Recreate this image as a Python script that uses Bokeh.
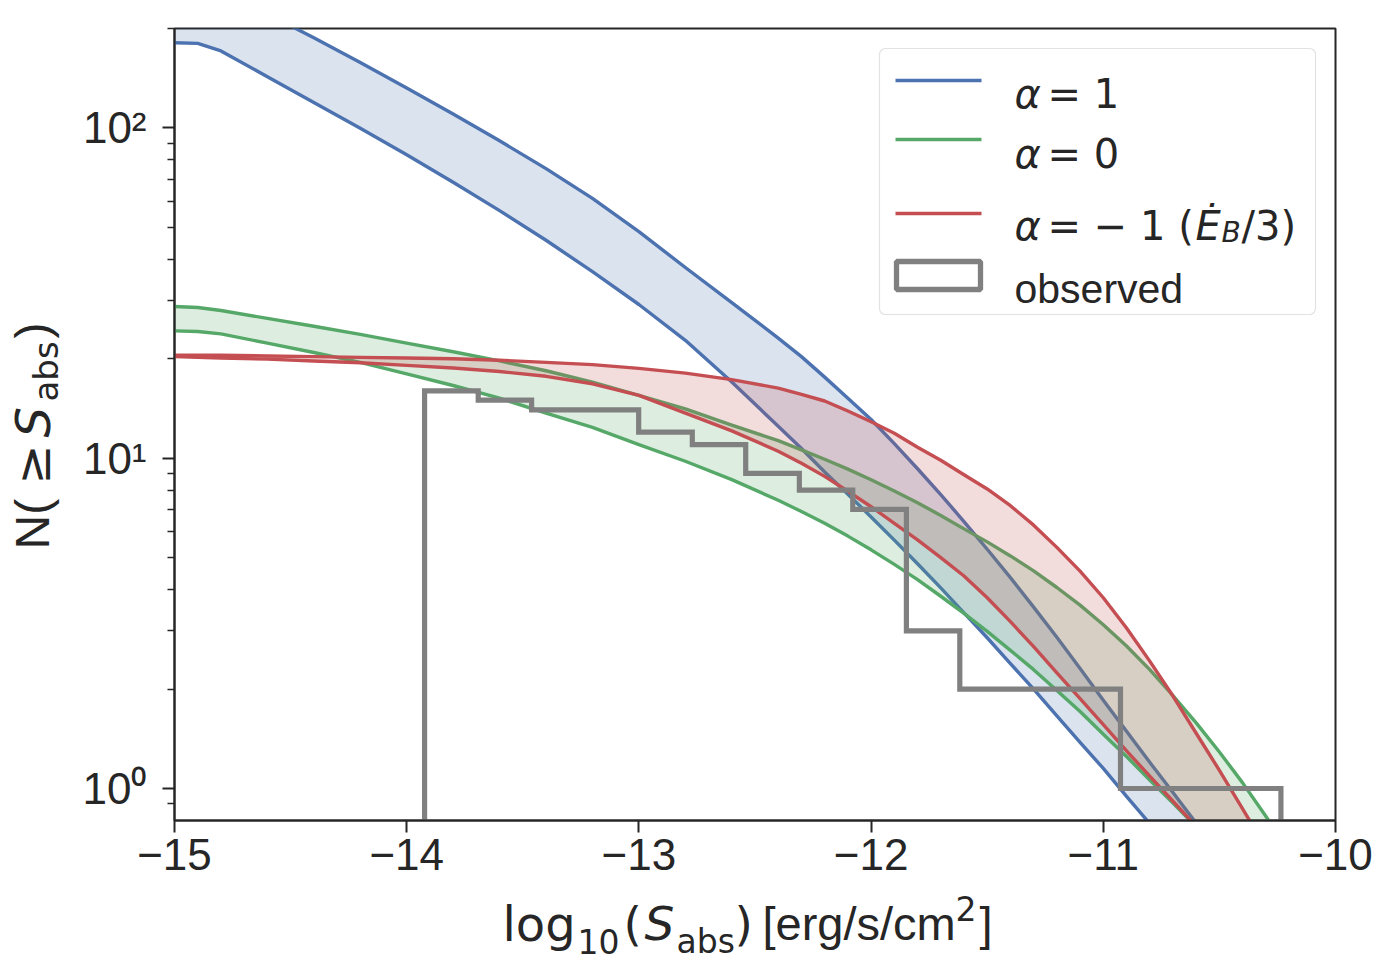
from bokeh.plotting import figure
from bokeh.models import FixedTicker, Label, BoxAnnotation, Range1d, Title
from bokeh.embed import file_html
from bokeh.resources import INLINE

# ---------------- data ----------------
log_s = [-15.0, -14.9, -14.8, -14.6, -14.4, -14.2, -14.0, -13.8, -13.6, -13.4, -13.2, -13.0,
         -12.8, -12.6,
         -12.4, -12.3, -12.2, -12.1, -12.0, -11.9, -11.8, -11.7, -11.6, -11.5, -11.4, -11.3,
         -11.2, -11.1, -11.0, -10.9, -10.8, -10.7, -10.6, -10.5, -10.4, -10.3, -10.2, -10.1,
         -10.0]

blue_upper = [281.8, 269, 257.0, 221.3, 187.5, 157.8, 132.1, 110.2, 91.4, 75.3, 61.2, 48.5,
              37.8, 29.6,
              23.1, 20.3, 17.6, 15.2, 13.1, 11.07, 9.29, 7.76, 6.43, 5.30, 4.35, 3.54,
              2.87, 2.31, 1.85, 1.49, 1.20, 0.972, 0.785, 0.627, 0.50, 0.398, 0.316, 0.251,
              0.20]
blue_lower = [181.1, 180.3, 171.0, 142.9, 119.4, 99.8, 83.0, 68.5, 56.2, 45.7, 36.7, 29.2,
              22.75, 17.0,
              12.5, 10.7, 9.08, 7.78, 6.64, 5.65, 4.79, 4.05, 3.40, 2.86, 2.39, 2.00,
              1.66, 1.38, 1.15, 0.947, 0.783, 0.646, 0.533, 0.44, 0.362, 0.298, 0.245, 0.201,
              0.166]

green_upper = [28.8, 28.6, 28.0, 26.5, 25.1, 23.7, 22.3, 21.0, 19.7, 18.4, 17.0, 15.5,
               14.1, 12.6,
               11.3, 10.6, 9.93, 9.27, 8.61, 7.96, 7.33, 6.71, 6.11, 5.58, 5.06, 4.56,
               4.06, 3.59, 3.13, 2.70, 2.29, 1.91, 1.58, 1.29, 1.04, 0.824, 0.646, 0.50,
               0.381]
green_lower = [24.3, 24.2, 23.8, 22.3, 20.9, 19.5, 18.0, 16.6, 15.2, 13.7, 12.4, 11.0,
               9.79, 8.61,
               7.46, 6.90, 6.35, 5.81, 5.28, 4.77, 4.29, 3.82, 3.39, 2.99, 2.62, 2.29,
               1.98, 1.71, 1.46, 1.25, 1.06, 0.903, 0.766, 0.646, 0.546, 0.459, 0.386, 0.324,
               0.272]

red_upper = [20.5, 20.5, 20.5, 20.4, 20.3, 20.2, 20.1, 20.0, 19.8, 19.5, 19.2, 18.7,
             18.1, 17.3,
             16.3, 15.6, 14.9, 13.9, 12.9, 11.9, 10.8, 9.86, 8.91, 8.07, 7.18, 6.27,
             5.37, 4.55, 3.78, 3.06, 2.43, 1.905, 1.47, 1.135, 0.867, 0.664, 0.506, 0.386,
             0.294]
red_lower = [20.3, 20.2, 20.1, 19.95, 19.7, 19.45, 19.1, 18.75, 18.3, 17.7, 16.8, 15.5,
             13.7, 12.1,
             10.5, 9.66, 8.81, 7.94, 7.13, 6.35, 5.66, 5.0, 4.40, 3.78, 3.20, 2.69,
             2.24, 1.87, 1.56, 1.30, 1.09, 0.915, 0.767, 0.642, 0.537, 0.449, 0.376, 0.315,
             0.263]

hist_edges = [-13.923, -13.692, -13.462, -13.231, -13.001, -12.770, -12.540, -12.309,
              -12.079, -11.848, -11.618, -11.387, -11.157, -10.926, -10.696, -10.465, -10.235]
hist_counts = [16, 15, 14, 14, 12, 11, 9, 8, 7, 3, 2, 2, 2, 1, 1, 1]
hist_bottom = 0.1

x_ticks = [-15, -14, -13, -12, -11, -10]
x_tick_labels = ["\u221215", "\u221214", "\u221213", "\u221212", "\u221211", "\u221210"]
y_ticks = [1, 10, 100]
y_tick_labels = ["10\u2070", "10\u00b9", "10\u00b2"]
y_minor = [0.9, 2, 3, 4, 5, 6, 7, 8, 9, 20, 30, 40, 50, 60, 70, 80, 90, 200]

# ---------------- style ----------------
BLUE, GREEN, RED, GRAY, INK = "#4C72B0", "#55A868", "#C44E52", "#808080", "#262626"
W, H = 1390, 971
FL, FR, FT, FB = 174, 1335, 28, 820   # frame edges on the canvas

p = figure(width=W, height=H, x_range=Range1d(-15, -10), y_range=Range1d(0.8, 200),
           y_axis_type="log", output_backend="svg", toolbar_location=None,
           min_border_left=FL, min_border_right=W - FR,
           min_border_top=FT, min_border_bottom=H - FB)
p.background_fill_color = "white"
p.border_fill_color = "white"
p.xgrid.visible = False
p.ygrid.visible = False
p.outline_line_color = INK
p.outline_line_width = 2

for ax in (p.xaxis[0], p.yaxis[0]):
    ax.axis_line_color = INK
    ax.axis_line_width = 2
    ax.major_tick_line_color = INK
    ax.major_tick_line_width = 2
    ax.minor_tick_line_color = INK
    ax.minor_tick_line_width = 1.5
    ax.major_tick_in = 0
    ax.major_tick_out = 12
    ax.minor_tick_in = 0
    ax.minor_tick_out = 7
    ax.major_label_text_font = "Liberation Sans"
    ax.major_label_text_font_size = "44px"
    ax.major_label_text_color = INK

p.xaxis.ticker = FixedTicker(ticks=x_ticks, minor_ticks=[])
p.xaxis.major_label_overrides = dict(zip(x_ticks, x_tick_labels))
p.xaxis.major_label_standoff = 6
p.yaxis.ticker = FixedTicker(ticks=y_ticks, minor_ticks=y_minor)
p.yaxis.major_label_overrides = dict(zip(y_ticks, y_tick_labels))
p.yaxis.major_label_standoff = 16

# ---------------- bands and curves ----------------
for lo, hi, col in ((blue_lower, blue_upper, BLUE),
                    (green_lower, green_upper, GREEN),
                    (red_lower, red_upper, RED)):
    p.varea(x=log_s, y1=lo, y2=hi, fill_color=col, fill_alpha=0.2)
    p.line(log_s, hi, line_color=col, line_width=3.4, line_join="round")
    p.line(log_s, lo, line_color=col, line_width=3.4, line_join="round")

# cumulative step histogram of observed sources
hx = [hist_edges[0]]
hy = [hist_bottom]
for i, c in enumerate(hist_counts):
    hx += [hist_edges[i], hist_edges[i + 1]]
    hy += [c, c]
hx.append(hist_edges[-1])
hy.append(hist_bottom)
p.line(hx, hy, line_color=GRAY, line_width=5.2, line_join="miter")


# ---------------- axis titles built from pieces in the side panels ----------------
def piece(side, text, offset, size, font="DejaVu Sans", style="normal"):
    # zero-height title piece; 'middle' anchoring keeps it on the running line
    p.add_layout(Title(text=text, align="left", vertical_align="middle", offset=offset,
                       standoff=-(round(1.16 * size) + 5), text_font=font,
                       text_font_size=f"{size}px", text_font_style=style,
                       text_color=INK), side)


def spacer(side, px):
    p.add_layout(Title(text=" ", text_font_size="1px", standoff=px - 3,
                       align="left", vertical_align="middle"), side)


# x: log10(S_abs) [erg/s/cm^2]
spacer("below", 36)
piece("below", "2", 955 - FL, 33)
spacer("below", 15)
piece("below", "log", 502 - FL, 48)
piece("below", "(", 623 - FL, 47)
piece("below", "S", 644 - FL, 47, style="italic")
piece("below", ")", 734 - FL, 47)
piece("below", "[erg/s/cm", 762 - FL, 47, font="Liberation Sans")
piece("below", "]", 979 - FL, 47, font="Liberation Sans")
spacer("below", 18)
piece("below", "10", 577 - FL, 33)
piece("below", "abs", 676 - FL, 33)

# y: N(>= S_abs)
spacer("left", 34)
piece("left", "abs", FB - 401, 34)
spacer("left", 13)
piece("left", "N(", FB - 549, 48, font="Liberation Sans")
piece("left", "\u2265", FB - 484, 48)
piece("left", "S", FB - 437, 48, style="italic")
piece("left", ")", FB - 338, 48, font="Liberation Sans")


# ---------------- legend (inside the frame) ----------------
def lab(text, cx, cy, size, font="DejaVu Sans", style="normal"):
    p.add_layout(Label(x=cx - FL, y=FB - cy, x_units="screen", y_units="screen",
                       text=text, text_font=font, text_font_size=f"{size}px",
                       text_font_style=style, text_color=INK,
                       text_baseline="alphabetic", text_align="left"))


def box(l, r, t, b, **kw):
    p.add_layout(BoxAnnotation(left=l - FL, right=r - FL, top=FB - t, bottom=FB - b,
                               left_units="screen", right_units="screen",
                               top_units="screen", bottom_units="screen", **kw))


box(879, 1315, 48, 314, fill_color="white", fill_alpha=0.85,
    line_color="#e2e2e2", line_alpha=1.0, line_width=1.2, border_radius=6)
for cy, col in ((80, BLUE), (139, GREEN), (213, RED)):
    box(895, 981, cy - 1.7, cy + 1.7, fill_color=col, fill_alpha=1.0, line_color=None)
box(896, 980, 261, 289, fill_color="white", fill_alpha=1.0,
    line_color=GRAY, line_alpha=1.0, line_width=5.3)

lab("\u03b1", 1014, 93, 40, style="italic")
lab("= 1", 1047, 93, 40)
lab("\u03b1", 1014, 153, 40, style="italic")
lab("= 0", 1047, 153, 40)
lab("\u03b1", 1014, 225, 40, style="italic")
lab("= \u2212 1 (", 1047, 225, 40)
lab("\u0116", 1195, 225, 40, style="italic")
lab("B", 1221, 232, 28, style="italic")
lab("/3)", 1241, 225, 40)
lab("observed", 1014, 288, 41, font="Liberation Sans")

open("out.html", "w").write(file_html(p, INLINE))
